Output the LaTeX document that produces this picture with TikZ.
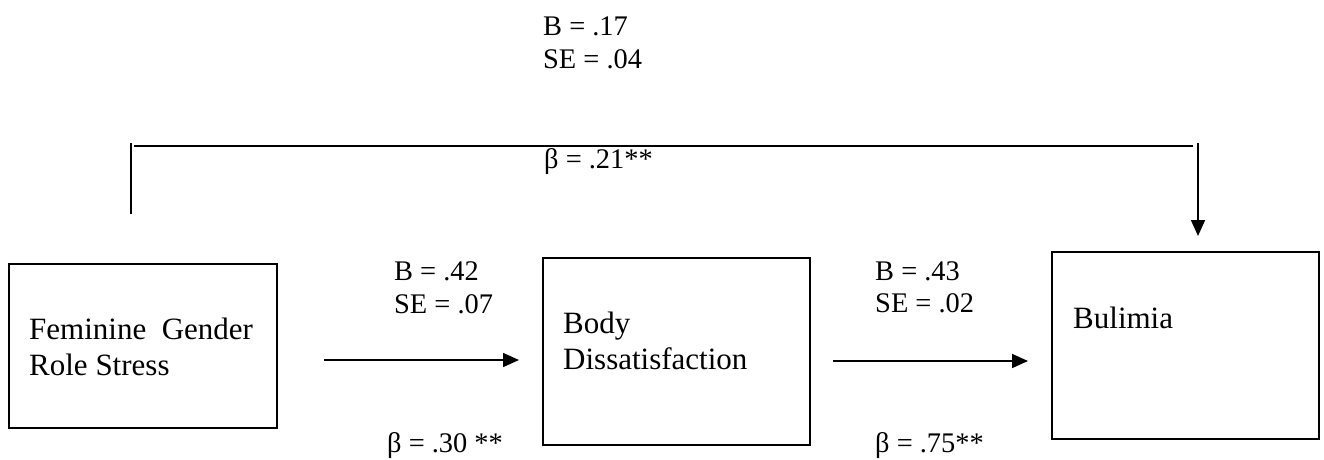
\documentclass[tikz,border=0pt]{standalone}
\usepackage{fontspec}
\setmainfont{Liberation Serif}
\usetikzlibrary{arrows.meta}
\tikzset{
  boxnode/.style={draw, line width=1.6pt, inner sep=0pt},
  lbl/.style={anchor=base west, inner sep=0pt, font=\fontsize{28.4}{33}\selectfont},
  boxtxt/.style={anchor=base west, inner sep=0pt, font=\fontsize{31}{36}\selectfont},
  conn/.style={line width=1.6pt, -{Triangle[length=16pt,width=14pt]}},
  plain/.style={line width=1.6pt}
}
\begin{document}
\begin{tikzpicture}[x=1pt,y=-1pt]
\useasboundingbox (0,0) rectangle (1324,460);
% boxes
\node[boxnode, minimum width=268pt, minimum height=164pt] (fgrs) at (143,346) {};
\node[boxnode, minimum width=267pt, minimum height=187pt] (bd) at (676.5,351.5) {};
\node[boxnode, minimum width=267pt, minimum height=187pt] (bul) at (1185.5,345.5) {};
% box texts
\node[boxtxt] (t1a) at (29,339) {Feminine\ \ Gender};
\node[boxtxt] (t1b) at (29,375) {Role Stress};
\node[boxtxt] (t2a) at (563,333) {Body};
\node[boxtxt] (t2b) at (563,369) {Dissatisfaction};
\node[boxtxt] (t3a) at (1073,328) {Bulimia};
% arrow endpoints
\coordinate (a1s) at (324,360);
\coordinate (a1e) at (519,360);
\coordinate (a2s) at (833,361);
\coordinate (a2e) at (1028,361);
\coordinate (ds) at (131,214);
\coordinate (dt) at (131,143);
\coordinate (dh1) at (134,146);
\coordinate (dh2) at (1193,146);
\coordinate (dv) at (1198,143);
\coordinate (de) at (1198,236);
\draw[conn] (a1s) -- (a1e);
\draw[conn] (a2s) -- (a2e);
\draw[plain] (ds) -- (dt);
\draw[plain] (dh1) -- (dh2);
\draw[conn] (dv) -- (de);
% labels
\node[lbl] (l0a) at (543,36) {B = .17};
\node[lbl] (l0b) at (543,69) {SE = .04};
\node[lbl] (l0c) at (544,168) {β = .21**};
\node[lbl] (l1a) at (394,280) {B = .42};
\node[lbl] (l1b) at (394,313) {SE = .07};
\node[lbl] (l1c) at (387,452) {β = .30 **};
\node[lbl] (l2a) at (875,280) {B = .43};
\node[lbl] (l2b) at (875,312) {SE = .02};
\node[lbl] (l2c) at (875,452) {β = .75**};
\end{tikzpicture}
\end{document}
